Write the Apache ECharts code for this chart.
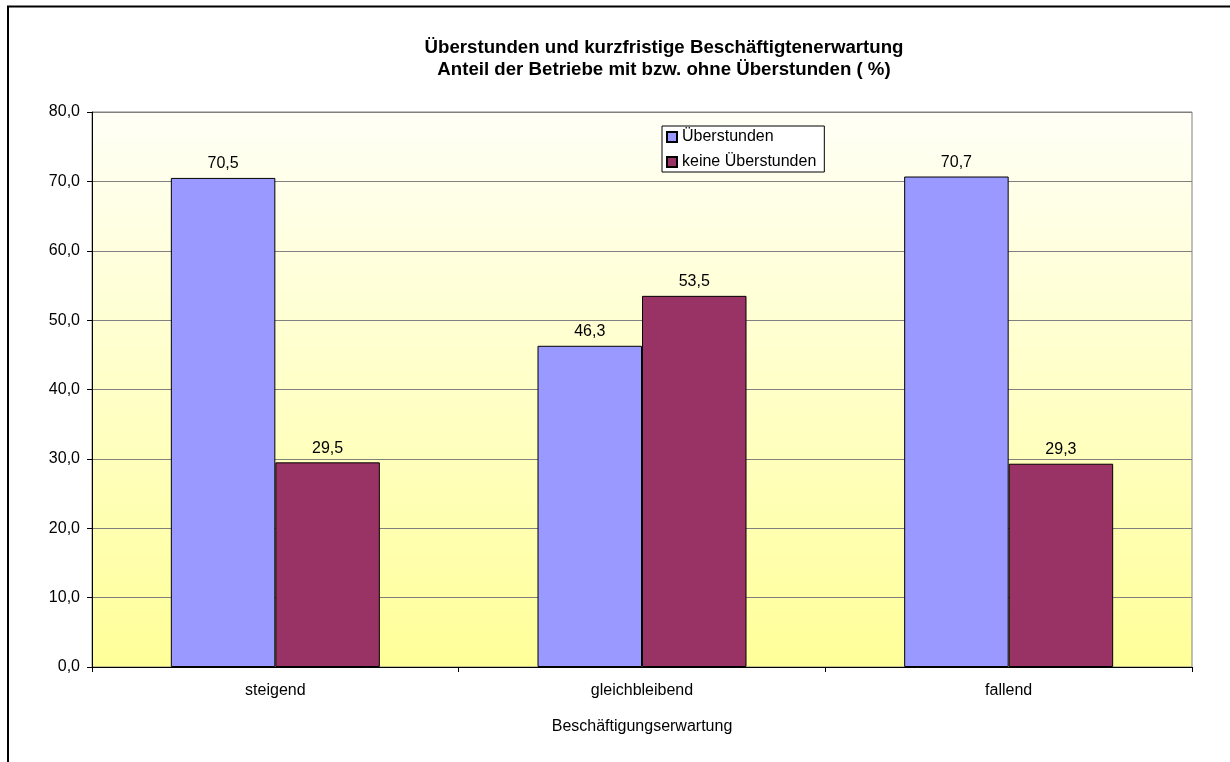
<!DOCTYPE html>
<html>
<head>
<meta charset="utf-8">
<script src="https://cdn.jsdelivr.net/npm/echarts@6/dist/echarts.min.js"></script>
<style>
  html, body { margin: 0; padding: 0; background: #ffffff; }
  #chart { width: 1230px; height: 762px; }
</style>
</head>
<body>
<div id="chart"></div>
<script>
// Categories and series values
const categories = ['steigend', 'gleichbleibend', 'fallend'];
const ueberstunden = [70.5, 46.3, 70.7];
const keineUeberstunden = [29.5, 53.5, 29.3];
const seriesNames = ['Überstunden', 'keine Überstunden'];
const titleLines = [
  'Überstunden und kurzfristige Beschäftigtenerwartung',
  'Anteil der Betriebe mit bzw. ohne Überstunden ( %)'
];
const xAxisTitle = 'Beschäftigungserwartung';

const FONT = 'Liberation Sans, Arial, sans-serif';
const fmt = v => Number(v).toFixed(1).replace('.', ',');

const chart = echarts.init(document.getElementById('chart'), null, { renderer: 'canvas' });

const barLabel = {
  show: true,
  position: 'top',
  distance: 6,
  color: '#000',
  fontFamily: FONT,
  fontSize: 16,
  formatter: p => fmt(p.value)
};

chart.setOption({
  animation: false,
  backgroundColor: '#ffffff',
  title: {
    text: titleLines.join('\n'),
    left: 664,
    top: 37,
    padding: 0,
    textAlign: 'center',
    textStyle: {
      fontFamily: FONT,
      fontSize: 18.67,
      fontWeight: 'bold',
      color: '#000',
      lineHeight: 22
    }
  },
  legend: {
    orient: 'vertical',
    left: 662,
    top: 126,
    padding: [2, 8, 1, 4],
    itemGap: 7,
    itemWidth: 10,
    itemHeight: 10,
    backgroundColor: '#ffffff',
    borderColor: '#000',
    borderWidth: 1,
    borderRadius: 0,
    icon: 'rect',
    textStyle: { fontFamily: FONT, fontSize: 16, color: '#000', lineHeight: 18 },
    data: seriesNames
  },
  grid: {
    left: 92,
    top: 112,
    right: 38,
    bottom: 95,
    show: true,
    borderColor: '#808080',
    borderWidth: 1,
    backgroundColor: new echarts.graphic.LinearGradient(0, 0, 0, 1, [
      { offset: 0, color: '#fffff6' },
      { offset: 1, color: '#ffff99' }
    ])
  },
  xAxis: {
    type: 'category',
    data: categories,
    name: xAxisTitle,
    nameLocation: 'middle',
    nameGap: 52,
    nameTextStyle: { fontFamily: FONT, fontSize: 16, color: '#000', verticalAlign: 'top' },
    axisLine: { lineStyle: { color: '#000', width: 1 } },
    axisTick: { show: true, length: 5, alignWithLabel: false, lineStyle: { color: '#000' } },
    axisLabel: { fontFamily: FONT, fontSize: 16, color: '#000', margin: 16 },
    splitLine: { show: false }
  },
  yAxis: {
    type: 'value',
    min: 0,
    max: 80,
    interval: 10,
    axisLine: { show: true, lineStyle: { color: '#000', width: 1 } },
    axisTick: { show: true, length: 5, lineStyle: { color: '#000' } },
    axisLabel: { fontFamily: FONT, fontSize: 16, color: '#000', margin: 12, formatter: v => fmt(v) },
    splitLine: { show: true, lineStyle: { color: '#808080', width: 1 } }
  },
  series: [
    {
      name: seriesNames[0],
      type: 'bar',
      data: ueberstunden,
      barGap: '0%',
      barCategoryGap: '43%',
      itemStyle: { color: '#9999ff', borderColor: '#000', borderWidth: 1 },
      label: barLabel
    },
    {
      name: seriesNames[1],
      type: 'bar',
      data: keineUeberstunden,
      itemStyle: { color: '#993366', borderColor: '#000', borderWidth: 1 },
      label: barLabel
    }
  ],
  graphic: [
    {
      type: 'rect',
      silent: true,
      z: 100,
      shape: { x: 8, y: 6.5, width: 1400, height: 900 },
      style: { fill: null, stroke: '#000', lineWidth: 2 }
    }
  ]
});
</script>
</body>
</html>
